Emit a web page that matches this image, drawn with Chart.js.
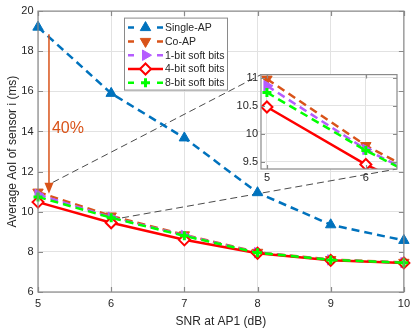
<!DOCTYPE html>
<html><head><meta charset="utf-8">
<script src="https://cdn.jsdelivr.net/npm/chart.js@4/dist/chart.umd.min.js"></script>
<style>
html,body{margin:0;padding:0;background:#fff;}
#wrap{position:relative;width:415px;height:330px;}
#main{position:absolute;left:0;top:0;}
#inset{position:absolute;left:235px;top:65px;}
</style></head><body>
<div id="wrap"><canvas id="main" width="415" height="330"></canvas><canvas id="inset" width="170" height="120"></canvas></div>
<script>
// ---- data ----
const snr = [5, 6, 7, 8, 9, 10];
const singleAP = [19.2, 15.9, 13.68, 10.95, 9.35, 8.57];
const coAP = [10.98, 9.79, 8.85, 7.98, 7.62, 7.48];
const soft1 = [10.86, 9.72, 8.82, 7.96, 7.6, 7.46];
const soft4 = [10.48, 9.45, 8.6, 7.93, 7.58, 7.45];
const soft8 = [10.74, 9.7, 8.8, 7.95, 7.6, 7.46];
const seriesNames = ['Single-AP', 'Co-AP', '1-bit soft bits', '4-bit soft bits', '8-bit soft bits'];
const xTicks = [5, 6, 7, 8, 9, 10];
const yTicks = [6, 8, 10, 12, 14, 16, 18, 20];
const insetXTicks = [5, 6];
const insetYTicks = [9.5, 10, 10.5, 11];
const xTitle = 'SNR at AP1 (dB)';
const yTitle = 'Average AoI of sensor i (ms)';
const gainLabel = '40%';
const arrowX = 5.15, arrowFrom = 18.85, arrowTo = 10.9;
const labelPos = [5.19, 14.15];
const zoomStart = [[5.2, 11.46], [6.0, 9.6]];

// ---- styles ----
Chart.defaults.font.family = '"Liberation Sans", Arial, Helvetica, sans-serif';
Chart.defaults.color = '#262626';
const styles = [
  {color:'#0072BD', shape:'triangle', rot:0, dash:[8,5], fill:'#0072BD', r:6, bw:1, lw:2.5},
  {color:'#D95319', shape:'triangle', rot:180, dash:[8,5], fill:'#D95319', r:6, bw:1, lw:2.5},
  {color:'#B55CFF', shape:'triangle', rot:90, dash:[8,5], fill:'#B55CFF', r:6, bw:1, lw:2.5},
  {color:'#FF0000', shape:'rectRot', rot:0, dash:[], fill:'#FFFFFF', r:5.5, bw:2, lw:2.5},
  {color:'#00FF00', shape:'cross', rot:0, dash:[8,5], fill:'#00FF00', r:4.5, bw:3, lw:2.5}
];
const allSeries = [singleAP, coAP, soft1, soft4, soft8];

function makeDatasets(clip){
  return allSeries.map((vals, i) => {
    const s = styles[i];
    return {
      label: seriesNames[i],
      data: snr.map((x, k) => ({x: x, y: vals[k]})),
      borderColor: s.color, borderWidth: s.lw, borderDash: s.dash,
      pointStyle: s.shape, pointRotation: s.rot, pointRadius: s.r,
      pointBackgroundColor: s.fill, pointBorderColor: s.color, pointBorderWidth: s.bw,
      tension: 0, fill: false, order: 5 - i, clip: clip
    };
  });
}

function boxPlugin(tickLen){
  return { id:'boxTicks', afterDraw(chart){
    const {ctx, chartArea:a, scales:{x, y}} = chart;
    ctx.save();
    ctx.strokeStyle = '#8a8a8a'; ctx.lineWidth = 1.2; ctx.setLineDash([]);
    ctx.beginPath();
    x.ticks.forEach(t => { const p = Math.round(x.getPixelForValue(t.value)) + 0.5;
      ctx.moveTo(p, a.bottom); ctx.lineTo(p, a.bottom - tickLen);
      ctx.moveTo(p, a.top); ctx.lineTo(p, a.top + tickLen); });
    y.ticks.forEach(t => { const p = Math.round(y.getPixelForValue(t.value)) + 0.5;
      ctx.moveTo(a.left, p); ctx.lineTo(a.left + tickLen, p);
      ctx.moveTo(a.right, p); ctx.lineTo(a.right - tickLen, p); });
    ctx.stroke();
    ctx.strokeRect(a.left, a.top, a.right - a.left, a.bottom - a.top);
    ctx.restore();
  }};
}
const whiteArea = { id:'whiteArea', beforeDraw(chart){
  const {ctx, chartArea:a} = chart; ctx.save(); ctx.fillStyle = '#fff';
  ctx.fillRect(a.left, a.top, a.right - a.left, a.bottom - a.top); ctx.restore(); } };

function drawMarker(ctx, s, x, y){
  ctx.save();
  ctx.setLineDash([]);
  ctx.fillStyle = s.fill; ctx.strokeStyle = s.color; ctx.lineWidth = s.bw;
  ctx.beginPath();
  const r = s.r;
  if (s.shape === 'triangle') {
    let rad = s.rot * Math.PI / 180;
    for (let k = 0; k < 3; k++) {
      const px = x + Math.sin(rad) * r, py = y - Math.cos(rad) * r;
      if (k === 0) ctx.moveTo(px, py); else ctx.lineTo(px, py);
      rad += 2 * Math.PI / 3;
    }
    ctx.closePath(); ctx.fill(); ctx.stroke();
  } else if (s.shape === 'rectRot') {
    ctx.moveTo(x, y - r); ctx.lineTo(x + r, y); ctx.lineTo(x, y + r); ctx.lineTo(x - r, y);
    ctx.closePath(); ctx.fill(); ctx.stroke();
  } else if (s.shape === 'cross') {
    ctx.moveTo(x - r, y); ctx.lineTo(x + r, y); ctx.moveTo(x, y - r); ctx.lineTo(x, y + r);
    ctx.stroke();
  }
  ctx.restore();
}

function commonScales(xmin, xmax, xt, ymin, ymax, yt, fsize, xh, yw, xpad, ypad, withTitles){
  const sc = {
    x: { type:'linear', min:xmin, max:xmax,
      afterBuildTicks: s => { s.ticks = xt.map(v => ({value:v})); },
      afterFit: s => { s.height = xh; },
      grid: { color:'#e2e2e2', drawTicks:false, lineWidth:1 }, border: { display:false },
      ticks: { padding:xpad, font:{size:fsize}, color:'#262626', maxRotation:0, autoSkip:false,
        callback: v => String(v) } },
    y: { type:'linear', min:ymin, max:ymax,
      afterBuildTicks: s => { s.ticks = yt.map(v => ({value:v})); },
      afterFit: s => { s.width = yw; },
      grid: { color:'#e2e2e2', drawTicks:false, lineWidth:1 }, border: { display:false },
      ticks: { padding:ypad, font:{size:fsize}, color:'#262626', autoSkip:false,
        callback: v => String(v) } }
  };
  if (withTitles) {
    sc.x.title = { display:true, text:xTitle, font:{size:12}, color:'#262626', padding:{top:0, bottom:1} };
    sc.y.title = { display:true, text:yTitle, font:{size:12}, color:'#262626', padding:{top:5, bottom:0} };
  }
  return sc;
}

// ---- inset chart ----
const insetChart = new Chart(document.getElementById('inset'), {
  type:'line',
  data:{ datasets: makeDatasets(undefined) },
  options:{ responsive:false, animation:false, events:[], devicePixelRatio:1,
    layout:{ padding:{ top:8, right:8, left:0, bottom:0 } },
    plugins:{ legend:{display:false}, tooltip:{enabled:false} },
    scales: commonScales(4.94, 6.315, insetXTicks, 9.37, 11.06, insetYTicks, 11, 16, 26, 2, 3, false)
  },
  plugins:[whiteArea, boxPlugin(4)]
});

// ---- main chart annotations ----
const annot = { id:'annot',
  beforeDatasetsDraw(chart){
    const {ctx, scales:{x, y}} = chart;
    const ia = insetChart.chartArea;
    const el = document.getElementById('inset');
    const ox = el.offsetLeft, oy = el.offsetTop;
    const ends = [[ox + ia.left, oy + ia.top], [ox + ia.right, oy + ia.bottom]];
    ctx.save();
    ctx.strokeStyle = '#4a4a4a'; ctx.lineWidth = 1; ctx.setLineDash([7, 4]);
    zoomStart.forEach((p, i) => {
      ctx.beginPath();
      ctx.moveTo(x.getPixelForValue(p[0]), y.getPixelForValue(p[1]));
      ctx.lineTo(ends[i][0], ends[i][1]);
      ctx.stroke();
    });
    ctx.restore();
  },
  afterDatasetsDraw(chart){
    const {ctx, scales:{x, y}} = chart;
    const ax = x.getPixelForValue(arrowX), y0 = y.getPixelForValue(arrowFrom), y1 = y.getPixelForValue(arrowTo);
    ctx.save();
    ctx.strokeStyle = '#D95319'; ctx.fillStyle = '#D95319'; ctx.lineWidth = 1.5; ctx.setLineDash([]);
    ctx.beginPath(); ctx.moveTo(ax, y0); ctx.lineTo(ax, y1 - 9); ctx.stroke();
    ctx.beginPath(); ctx.moveTo(ax - 4.5, y1 - 11); ctx.lineTo(ax + 4.5, y1 - 11); ctx.lineTo(ax, y1); ctx.closePath(); ctx.fill();
    ctx.font = '16px "Liberation Sans", Arial, sans-serif';
    ctx.textAlign = 'left'; ctx.textBaseline = 'middle';
    ctx.fillText(gainLabel, x.getPixelForValue(labelPos[0]), y.getPixelForValue(labelPos[1]));
    ctx.restore();
  },
  afterDraw(chart){
    const {ctx, chartArea:a} = chart;
    const bx = a.left + 86, by = a.top + 6.5, bw = 103, bh = 72;
    ctx.save();
    ctx.fillStyle = '#fff'; ctx.fillRect(bx, by, bw, bh);
    ctx.strokeStyle = '#8a8a8a'; ctx.lineWidth = 1; ctx.strokeRect(bx + 0.5, by + 0.5, bw, bh);
    ctx.font = '10.5px "Liberation Sans", Arial, sans-serif';
    ctx.textBaseline = 'middle'; ctx.textAlign = 'left';
    seriesNames.forEach((name, i) => {
      const s = styles[i];
      const ry = by + 10 + i * 13.8;
      ctx.save();
      ctx.strokeStyle = s.color; ctx.lineWidth = s.lw; ctx.setLineDash([]);
      ctx.beginPath();
      if (s.dash.length) {
        ctx.moveTo(bx + 4, ry); ctx.lineTo(bx + 10, ry);
        ctx.moveTo(bx + 33, ry); ctx.lineTo(bx + 39, ry);
      } else {
        ctx.moveTo(bx + 4, ry); ctx.lineTo(bx + 39, ry);
      }
      ctx.stroke();
      ctx.restore();
      drawMarker(ctx, s, bx + 21.5, ry);
      ctx.fillStyle = '#262626';
      ctx.fillText(name, bx + 41, ry + 0.5);
    });
    ctx.restore();
  }
};

new Chart(document.getElementById('main'), {
  type:'line',
  data:{ datasets: makeDatasets(false) },
  options:{ responsive:false, animation:false, events:[], devicePixelRatio:1,
    layout:{ padding:{ top:5, right:8, left:0, bottom:0 } },
    plugins:{ legend:{display:false}, tooltip:{enabled:false} },
    scales: commonScales(5, 10, xTicks, 6, 20, yTicks, 11, 38, 38, 5, 4.5, true)
  },
  plugins:[annot, boxPlugin(5)]
});
</script>
</body></html>
